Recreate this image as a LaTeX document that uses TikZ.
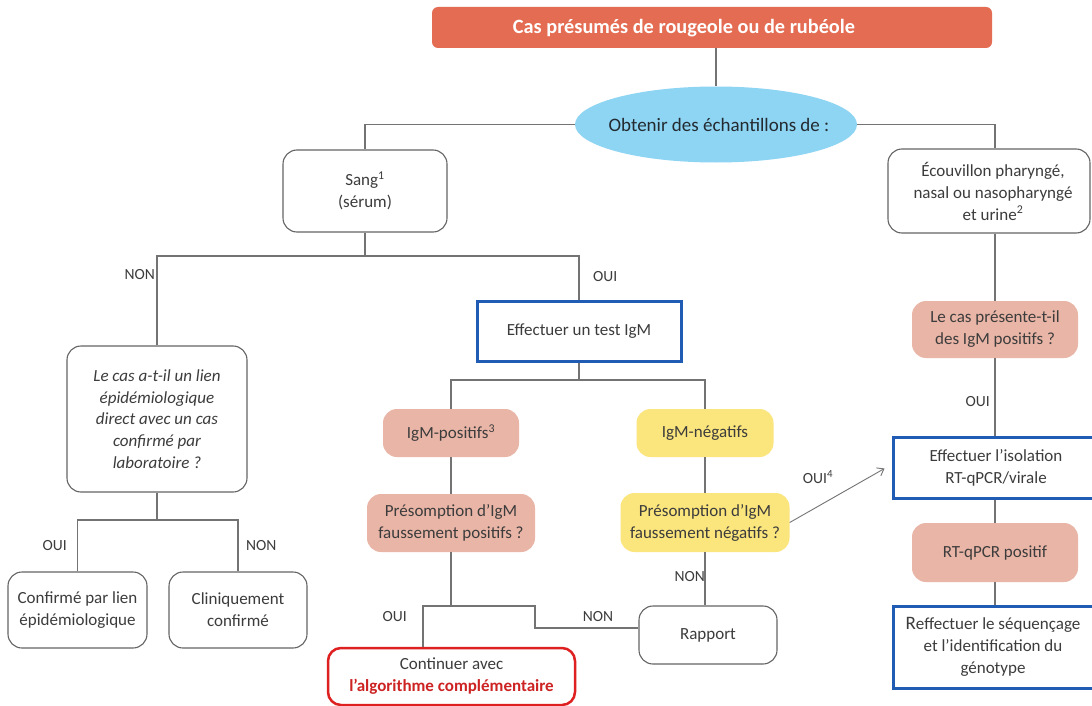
\documentclass[tikz,border=0pt]{standalone}
\usepackage{fontspec}
\setmainfont{Carlito}
\usetikzlibrary{shapes.geometric,arrows.meta}
\definecolor{orangef}{RGB}{228,108,82}
\definecolor{bluef}{RGB}{142,212,243}
\definecolor{pinkf}{RGB}{233,181,166}
\definecolor{yellowf}{RGB}{251,229,125}
\definecolor{blueb}{RGB}{32,92,180}
\definecolor{redb}{RGB}{222,32,32}
\definecolor{redt}{RGB}{205,35,35}
\definecolor{linegray}{RGB}{115,115,115}
\definecolor{boxgray}{RGB}{100,100,100}
\definecolor{txt}{RGB}{60,60,60}
\definecolor{darktxt}{RGB}{35,42,48}
\tikzset{
  base/.style={font=\fontsize{17}{22}\selectfont, text=txt, align=center, inner sep=0pt},
  gbox/.style={base, draw=boxgray, line width=1.1pt, rounded corners=14pt, fill=white},
  pbox/.style={base, fill=pinkf, rounded corners=14pt},
  ybox/.style={base, fill=yellowf, rounded corners=14pt},
  bbox/.style={base, draw=blueb, line width=3pt, fill=white},
  rbox/.style={base, draw=redb, line width=2.5pt, rounded corners=13pt, fill=white},
  conn/.style={draw=linegray, line width=1.1pt},
  lab/.style={font=\fontsize{15.5}{18}\selectfont, text=txt, inner sep=0pt},
}
\begin{document}
\begin{tikzpicture}[x=1pt,y=-1pt]
\clip (0,0) rectangle (1092,706);
\useasboundingbox (0,0) rectangle (1092,706);
\fill[white] (0,0) rectangle (1092,706);

% title
\node[fill=orangef, rounded corners=6pt, minimum width=560, minimum height=41, inner sep=0pt] (title) at (712,27.5) {};
\node[font=\fontsize{20.3}{22}\selectfont\bfseries, text=white, inner sep=0pt] (titletext) at (684,28) {Cas présumés de rougeole ou de rubéole};

% ellipse
\node[ellipse, fill=bluef, minimum width=282, minimum height=76, inner sep=0pt] (ell) at (716,124.5) {};
\node[font=\fontsize{19}{22}\selectfont, text=darktxt, inner sep=0pt] (elltext) at (719,125) {Obtenir des échantillons de :};

% sample boxes
\node[gbox, minimum width=164, minimum height=82] (sang) at (365,191) {Sang\textsuperscript{1}\\(sérum)};
\node[gbox, minimum width=202, minimum height=84] (ecou) at (989,191) {\hspace*{8pt}Écouvillon pharyngé,\\\hspace*{8pt}nasal ou nasopharyngé\\\hspace*{8pt}et urine\textsuperscript{2}};

% left branch
\node[gbox, minimum width=180, minimum height=146, font=\fontsize{17}{21.7}\selectfont\itshape] (lien) at (157,419) {Le cas a-t-il un lien\\épidémiologique\\direct avec un cas\\confirmé par\\laboratoire ?};
\node[gbox, minimum width=139, minimum height=76] (conf) at (77.5,610) {Confirmé par lien\\épidémiologique};
\node[gbox, minimum width=138, minimum height=76] (clin) at (238,610) {Cliniquement\\confirmé};

% middle branch
\node[bbox, minimum width=204, minimum height=60] (test) at (579,331) {Effectuer un test IgM};
\node[pbox, minimum width=136, minimum height=48] (pos) at (451,433) {IgM-positifs\textsuperscript{3}};
\node[ybox, minimum width=137, minimum height=48] (neg) at (705,433) {IgM-négatifs};
\node[pbox, minimum width=168, minimum height=58] (prespos) at (451,523) {Présomption d’IgM\\faussement positifs ?};
\node[ybox, minimum width=169, minimum height=59] (presneg) at (705,522.5) {Présomption d’IgM\\faussement négatifs ?};
\node[gbox, minimum width=138, minimum height=58] (rapport) at (708,635) {Rapport};
\node[rbox, minimum width=247, minimum height=57] (cont) at (451.5,676.5) {Continuer avec\\{\color{redt}\bfseries l’algorithme complémentaire}};

% right branch
\node[pbox, minimum width=166, minimum height=57] (lecas) at (995,329.5) {Le cas présente-t-il\\des IgM positifs ?};
\node[bbox, minimum width=206, minimum height=61] (isol) at (996,467.5) {Effectuer l’isolation\\RT-qPCR/virale};
\node[pbox, minimum width=166, minimum height=59] (rtpos) at (995,552.5) {RT-qPCR positif};
\node[bbox, minimum width=206, minimum height=82] (reff) at (996,647) {\hspace*{-6pt}{\fontsize{19}{22}\selectfont R}effectuer le séquençage\\\hspace*{-6pt}et l’identification du\\\hspace*{-6pt}génotype};

% connectors
\coordinate (j1) at (365,256);
\coordinate (j2) at (579,380);
\coordinate (j3) at (157,520);
\coordinate (j4) at (451,606);
\coordinate (j5) at (535,628);

\draw[conn] (title.south -| ell.north) -- (ell.north);
\draw[conn] (ell.west) -| (sang.north);
\draw[conn] (ell.east) -| (lecas.north |- ecou.north);
\draw[conn] (lecas.north |- ecou.south) -- (lecas.north);
\draw[conn] (lecas.south) -- (lecas.south |- isol.north);
\draw[conn] (rtpos.north |- isol.south) -- (rtpos.north);
\draw[conn] (rtpos.south) -- (rtpos.south |- reff.north);

\draw[conn] (sang.south) -- (j1);
\draw[conn] (lien.north) |- (j1) -| (test.north);
\draw[conn] (lien.south) -- (j3);
\draw[conn] (conf.north) |- (j3) -| (clin.north);
\draw[conn] (test.south) -- (j2);
\draw[conn] (pos.north) |- (j2) -| (neg.north);
\draw[conn] (pos.south) -- (prespos.north);
\draw[conn] (neg.south) -- (presneg.north);
\draw[conn] (prespos.south) -- (j4);
\draw[conn] (cont.north -| 423,0) |- (j4) -| (j5) -- (j5 -| rapport.west);
\draw[conn] (presneg.south) -- (presneg.south |- rapport.north);
\draw[conn, line width=0.9pt, -{Straight Barb[length=6pt,width=9pt]}] (presneg.east) -- ([xshift=-7pt,yshift=-1pt]isol.west);

% labels
\node[lab, anchor=east] (l1) at (155,275) {NON};
\node[lab, anchor=west] (l2) at (593,277) {OUI};
\node[lab, anchor=east] (l3) at (67,546) {OUI};
\node[lab, anchor=west] (l4) at (246,546) {NON};
\node[lab, anchor=east] (l5) at (705,577) {NON};
\node[lab] (l6) at (818,477) {OUI\textsuperscript{4}};
\node[lab, anchor=east] (l7) at (407,617) {OUI};
\node[lab] (l8) at (598,617) {NON};
\node[lab, anchor=east] (l9) at (990,402) {OUI};
\end{tikzpicture}
\end{document}
